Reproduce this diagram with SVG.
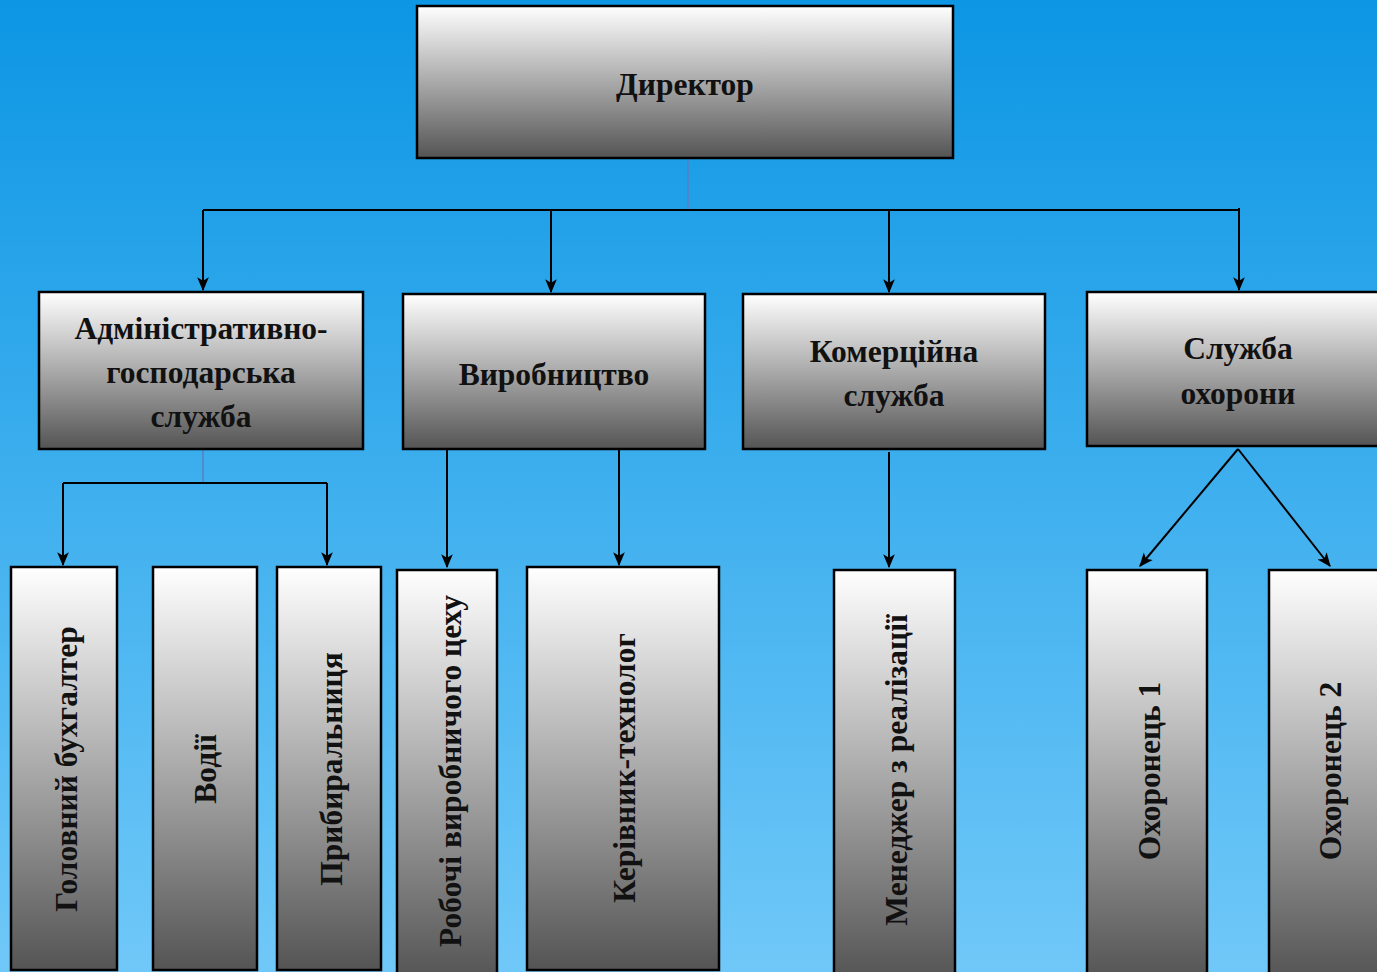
<svg xmlns="http://www.w3.org/2000/svg" width="1377" height="972" viewBox="0 0 1377 972">
<defs>
<linearGradient id="bg" x1="0" y1="0" x2="0" y2="1">
<stop offset="0" stop-color="#0c96e4"/>
<stop offset="1" stop-color="#70c8f8"/>
</linearGradient>
<linearGradient id="box" x1="0" y1="0" x2="0" y2="1">
<stop offset="0" stop-color="#ffffff"/>
<stop offset="1" stop-color="#545454"/>
</linearGradient>
<marker id="arr" markerUnits="userSpaceOnUse" markerWidth="14" markerHeight="14" viewBox="0 0 12 12" refX="11" refY="6" orient="auto">
<path d="M0,1 L12,6 L0,11 L3,6 z" fill="#000"/>
</marker>
</defs>
<style>
.node rect{fill:url(#box);stroke:#000;stroke-width:2.5}
.node text{font-family:"Liberation Serif","Times New Roman",serif;font-weight:bold;font-size:31.5px;fill:#111;text-anchor:middle;dominant-baseline:central}
.conn path{fill:none;stroke:#000;stroke-width:2}
.conn .stem{stroke:#5a7fc0;stroke-width:1.5}
</style>
<rect x="0" y="0" width="1377" height="972" fill="url(#bg)"/>

<g class="conn" id="connectors">
<path class="stem" d="M688,158 V210"/>
<path d="M203,210 H1239"/>
<path d="M203,210 V290" marker-end="url(#arr)"/>
<path d="M551,210 V292" marker-end="url(#arr)"/>
<path d="M889,210 V292" marker-end="url(#arr)"/>
<path d="M1239,208 V290" marker-end="url(#arr)"/>
<path class="stem" d="M203,449 V483"/>
<path d="M63,483 H327"/>
<path d="M63,483 V565" marker-end="url(#arr)"/>
<path d="M327,483 V565" marker-end="url(#arr)"/>
<path d="M447,449 V567" marker-end="url(#arr)"/>
<path d="M619,449 V565" marker-end="url(#arr)"/>
<path d="M889,452 V567" marker-end="url(#arr)"/>
<path d="M1238,449 L1140,566" marker-end="url(#arr)"/>
<path d="M1238,449 L1330,566" marker-end="url(#arr)"/>
</g>

<g class="node" id="n-director">
<rect x="417" y="6" width="536" height="152"/>
<text x="685" y="84" font-size="31">Директор</text>
</g>
<g class="node" id="n-admin">
<rect x="39" y="292" width="324" height="157"/>
<text x="201" y="328">Адміністративно-</text>
<text x="201" y="372">господарська</text>
<text x="201" y="416">служба</text>
</g>
<g class="node" id="n-vyrob">
<rect x="403" y="294" width="302" height="155"/>
<text x="554" y="374">Виробництво</text>
</g>
<g class="node" id="n-komerc">
<rect x="743" y="294" width="302" height="155"/>
<text x="894" y="351">Комерційна</text>
<text x="894" y="395">служба</text>
</g>
<g class="node" id="n-ohorona">
<rect x="1087" y="292" width="300" height="154"/>
<text x="1238" y="348">Служба</text>
<text x="1238" y="393">охорони</text>
</g>

<g class="node" id="n-buh">
<rect x="11" y="567" width="106" height="403"/>
<text transform="translate(66,769) rotate(-90)">Головний бухгалтер</text>
</g>
<g class="node" id="n-vodii">
<rect x="153" y="567" width="104" height="403"/>
<text transform="translate(205,769) rotate(-90)">Водії</text>
</g>
<g class="node" id="n-prybyr">
<rect x="277" y="567" width="104" height="403"/>
<text transform="translate(331,769) rotate(-90)">Прибиральниця</text>
</g>
<g class="node" id="n-roboch">
<rect x="397" y="570" width="100" height="410"/>
<text transform="translate(450,771) rotate(-90)">Робочі виробничого цеху</text>
</g>
<g class="node" id="n-kerivnyk">
<rect x="527" y="567" width="192" height="403"/>
<text transform="translate(624,768) rotate(-90)">Керівник-технолог</text>
</g>
<g class="node" id="n-menedzher">
<rect x="834" y="570" width="121" height="410"/>
<text transform="translate(896,770) rotate(-90)">Менеджер з реалізації</text>
</g>
<g class="node" id="n-ohor1">
<rect x="1087" y="570" width="120" height="410"/>
<text transform="translate(1149,771) rotate(-90)">Охоронець 1</text>
</g>
<g class="node" id="n-ohor2">
<rect x="1269" y="570" width="120" height="410"/>
<text transform="translate(1330,771) rotate(-90)">Охоронець 2</text>
</g>
</svg>
